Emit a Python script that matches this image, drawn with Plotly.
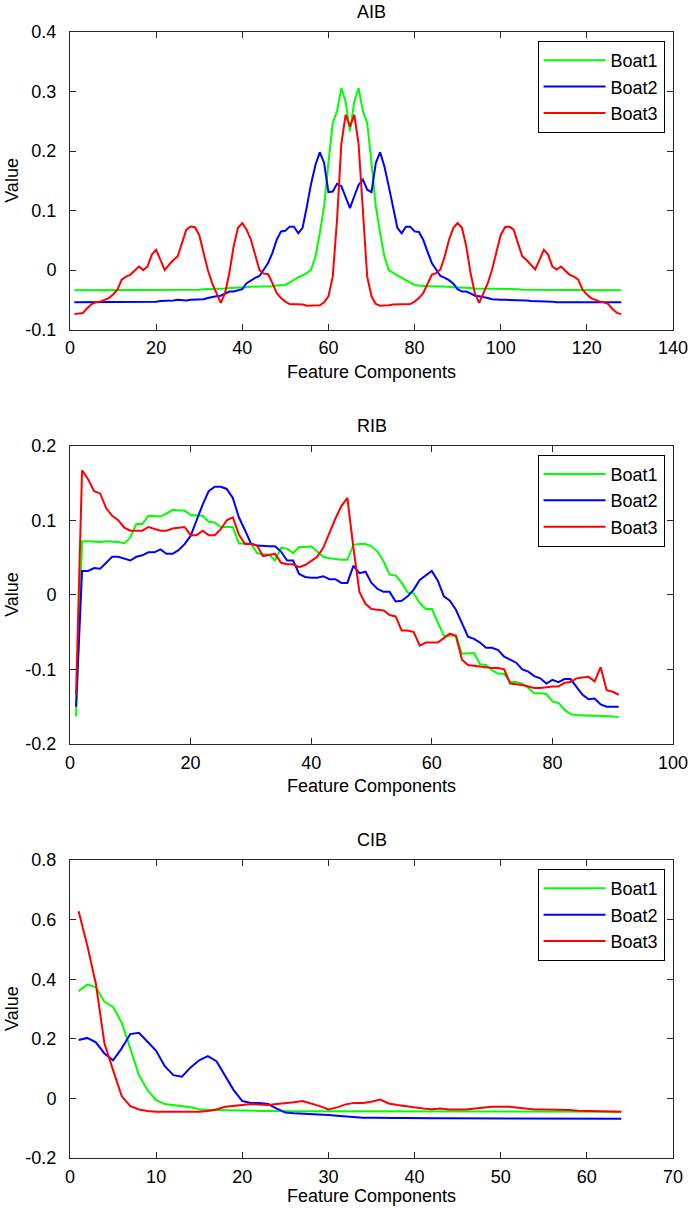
import plotly.graph_objects as go

# ---------------- DATA ----------------
series_names = ["Boat1", "Boat2", "Boat3"]
series_colors = ["#00FF00", "#0000FF", "#FF0000"]

# AIB (128 components)
aib_x = list(range(1, 129))
aib_boat1 = [
    -0.034, -0.034, -0.034, -0.034, -0.034, -0.034, -0.034, -0.034, -0.034, -0.034,
    -0.034, -0.034, -0.034, -0.034, -0.034, -0.034, -0.034, -0.034, -0.034, -0.034,
    -0.033, -0.033, -0.033, -0.033, -0.033, -0.033, -0.033, -0.033, -0.033, -0.033,
    -0.032, -0.032, -0.032, -0.031, -0.031, -0.031, -0.030, -0.030, -0.030, -0.029,
    -0.029, -0.028, -0.028, -0.027, -0.027, -0.027, -0.027, -0.026,
    -0.026, -0.025, -0.021, -0.016, -0.012, -0.009, -0.005, 0.001,
    0.023, 0.062, 0.107, 0.180, 0.247, 0.267, 0.306, 0.283,
    0.233, 0.283, 0.306, 0.267, 0.247, 0.180, 0.107, 0.062,
    0.023, 0.000, -0.005, -0.009, -0.013, -0.017, -0.022, -0.025,
    -0.026, -0.027, -0.027, -0.027, -0.027, -0.027, -0.028, -0.028,
    -0.029, -0.029, -0.030, -0.030, -0.030, -0.031, -0.031, -0.031,
    -0.032, -0.032, -0.032, -0.032, -0.032, -0.032, -0.032, -0.032,
    -0.033, -0.033, -0.033, -0.033, -0.033, -0.033, -0.033, -0.033,
    -0.034, -0.034, -0.034, -0.034, -0.034, -0.034, -0.034, -0.034,
    -0.034, -0.034, -0.034, -0.034, -0.034, -0.034, -0.034, -0.034,
]
aib_boat2 = [
    -0.054, -0.054, -0.054, -0.054, -0.054, -0.054, -0.054, -0.054, -0.054, -0.054,
    -0.054, -0.054, -0.054, -0.054, -0.053, -0.053, -0.053, -0.053, -0.053, -0.053,
    -0.052, -0.052, -0.052, -0.051, -0.050, -0.051, -0.051, -0.050, -0.050, -0.050,
    -0.049, -0.047, -0.045, -0.044, -0.043, -0.039, -0.036, -0.036, -0.034,
    -0.032, -0.022, -0.017, -0.013, -0.010, 0.000, 0.012, 0.029, 0.051, 0.065,
    0.066, 0.073, 0.073, 0.062, 0.071, 0.107, 0.146, 0.177, 0.198, 0.180,
    0.131, 0.132, 0.145, 0.141, 0.124, 0.104, 0.124, 0.143, 0.152, 0.135,
    0.131, 0.180, 0.198,
    0.174, 0.141, 0.107, 0.071, 0.062, 0.073, 0.073, 0.065, 0.064, 0.051,
    0.031, 0.012, 0.001, -0.010, -0.013, -0.017, -0.023, -0.032, -0.036, -0.036,
    -0.039, -0.043, -0.044, -0.045, -0.047, -0.049, -0.050, -0.050,
    -0.050, -0.050, -0.051, -0.051, -0.050,
    -0.051, -0.052, -0.052, -0.053, -0.053, -0.053, -0.053, -0.054, -0.054, -0.054,
    -0.054, -0.054, -0.054, -0.054, -0.054, -0.054, -0.054, -0.054, -0.054, -0.054,
    -0.054, -0.054, -0.054,
]
aib_boat3 = [
    -0.074, -0.073, -0.072, -0.064, -0.057, -0.054, -0.053, -0.050, -0.047, -0.041,
    -0.033, -0.016, -0.011, -0.008, -0.001, 0.006, 0.000, 0.006, 0.026, 0.034,
    0.017, 0.000, 0.009, 0.017, 0.023, 0.045, 0.068, 0.073, 0.072, 0.059,
    0.029, 0.000, -0.022, -0.039, -0.055, -0.039, -0.005, 0.040, 0.071, 0.079,
    0.068, 0.051, 0.026, 0.000, -0.006, -0.007, -0.022, -0.039, -0.047, -0.053,
    -0.057, -0.057, -0.057, -0.058, -0.060, -0.060, -0.060, -0.059, -0.054, -0.044,
    -0.011, 0.085, 0.212, 0.261, 0.241, 0.261, 0.212, 0.090, -0.011, -0.044,
    -0.057, -0.060, -0.060, -0.059, -0.058, -0.058, -0.057, -0.057, -0.057, -0.053,
    -0.047, -0.039, -0.022, -0.008, -0.005, 0.001, 0.023, 0.051, 0.071, 0.079,
    0.071, 0.040, -0.005, -0.039, -0.055, -0.039, -0.022, 0.001, 0.029, 0.059,
    0.072, 0.073, 0.068, 0.045, 0.023, 0.017, 0.009, 0.001, 0.017, 0.034,
    0.026, 0.006, 0.001, 0.006, -0.001, -0.008, -0.011, -0.016, -0.033, -0.041,
    -0.047, -0.050, -0.053, -0.054, -0.057, -0.066, -0.072, -0.074,
]

# RIB (91 components)
rib_x = list(range(1, 92))
rib_boat1 = [
    -0.163, 0.072, 0.072, 0.071, 0.071, 0.072, 0.072, 0.071, 0.069, 0.077,
    0.095, 0.095, 0.106, 0.105, 0.105, 0.109, 0.114, 0.113, 0.113, 0.107,
    0.106, 0.106, 0.098, 0.097, 0.091, 0.091, 0.091, 0.069, 0.069, 0.069,
    0.056, 0.054, 0.054, 0.046, 0.063, 0.062, 0.056, 0.064, 0.064, 0.065,
    0.058, 0.051, 0.049, 0.048, 0.047, 0.047, 0.067, 0.068, 0.068, 0.065,
    0.058, 0.045, 0.027, 0.026, 0.016, 0.003, 0.002, -0.011, -0.019, -0.019,
    -0.036, -0.055, -0.055, -0.055, -0.079, -0.079, -0.078, -0.093, -0.094, -0.101,
    -0.106, -0.106, -0.117, -0.117, -0.119, -0.125, -0.132, -0.132, -0.133, -0.143,
    -0.145, -0.154, -0.160, -0.161, -0.162, -0.162, -0.162, -0.162, -0.163, -0.163,
    -0.164,
]
rib_boat2 = [
    -0.150, 0.032, 0.032, 0.036, 0.035, 0.043, 0.051, 0.051, 0.048, 0.046,
    0.051, 0.053, 0.057, 0.057, 0.061, 0.055, 0.055, 0.060, 0.068, 0.079,
    0.100, 0.121, 0.139, 0.145, 0.145, 0.142, 0.130, 0.104, 0.087, 0.069,
    0.066, 0.065, 0.065, 0.065, 0.058, 0.046, 0.046, 0.028, 0.024, 0.023,
    0.023, 0.025, 0.021, 0.021, 0.016, 0.016, 0.039, 0.029, 0.031, 0.016,
    0.008, 0.004, 0.004, -0.009, -0.008, -0.002, 0.007, 0.020, 0.026, 0.032,
    0.019, -0.002, -0.008, -0.020, -0.038, -0.056, -0.059, -0.064, -0.071, -0.071,
    -0.074, -0.083, -0.087, -0.091, -0.100, -0.103, -0.109, -0.112, -0.119, -0.114,
    -0.117, -0.113, -0.113, -0.123, -0.134, -0.140, -0.139, -0.147, -0.150, -0.150,
    -0.150,
]
rib_boat3 = [
    -0.134, 0.167, 0.155, 0.139, 0.136, 0.116, 0.106, 0.100, 0.090, 0.086,
    0.086, 0.086, 0.091, 0.088, 0.086, 0.086, 0.089, 0.090, 0.091, 0.080,
    0.080, 0.086, 0.080, 0.080, 0.088, 0.100, 0.104, 0.081, 0.068, 0.068,
    0.066, 0.052, 0.054, 0.055, 0.043, 0.041, 0.041, 0.037, 0.040, 0.046,
    0.051, 0.063, 0.083, 0.102, 0.119, 0.130, 0.063, 0.004, -0.012, -0.019,
    -0.020, -0.021, -0.027, -0.029, -0.048, -0.048, -0.050, -0.068, -0.064, -0.064,
    -0.064, -0.058, -0.052, -0.055, -0.087, -0.094, -0.095, -0.096, -0.096, -0.098,
    -0.098, -0.100, -0.119, -0.120, -0.121, -0.123, -0.125, -0.125, -0.124, -0.123,
    -0.123, -0.118, -0.117, -0.112, -0.111, -0.110, -0.116, -0.097, -0.128, -0.130,
    -0.134,
]

# CIB (64 components)
cib_x = list(range(1, 65))
cib_boat1 = [
    0.360, 0.382, 0.374, 0.324, 0.307, 0.254, 0.168, 0.078, 0.028, -0.006,
    -0.019, -0.022, -0.026, -0.030, -0.036, -0.039, -0.039, -0.040, -0.041, -0.041,
    -0.042, -0.042, -0.042, -0.043, -0.043, -0.043, -0.043, -0.043, -0.044, -0.044,
    -0.044, -0.044, -0.044, -0.044, -0.044, -0.044, -0.044, -0.044, -0.045, -0.045,
    -0.045, -0.045, -0.045, -0.045, -0.045, -0.045, -0.045, -0.045, -0.045, -0.045,
    -0.045, -0.045, -0.045, -0.045, -0.045, -0.045, -0.045, -0.045, -0.045, -0.045,
    -0.045, -0.045, -0.045, -0.045,
]
cib_boat2 = [
    0.196, 0.203, 0.188, 0.151, 0.128, 0.168, 0.216, 0.220, 0.190, 0.160,
    0.108, 0.078, 0.073, 0.104, 0.128, 0.142, 0.125, 0.078, 0.028, -0.009,
    -0.015, -0.015, -0.019, -0.034, -0.047, -0.050, -0.051, -0.053, -0.054, -0.056,
    -0.058, -0.061, -0.064, -0.065, -0.065, -0.066, -0.066, -0.066, -0.066, -0.067,
    -0.067, -0.067, -0.067, -0.067, -0.067, -0.067, -0.067, -0.067, -0.067, -0.067,
    -0.067, -0.067, -0.067, -0.067, -0.067, -0.067, -0.068, -0.068, -0.068, -0.068,
    -0.068, -0.068, -0.068, -0.068,
]
cib_boat3 = [
    0.628, 0.514, 0.385, 0.184, 0.095, 0.008, -0.026, -0.037, -0.042, -0.045,
    -0.045, -0.045, -0.045, -0.045, -0.045, -0.042, -0.037, -0.028, -0.026, -0.022,
    -0.019, -0.020, -0.022, -0.019, -0.017, -0.013, -0.009, -0.017, -0.026, -0.037,
    -0.030, -0.020, -0.015, -0.015, -0.011, -0.004, -0.017, -0.022, -0.026, -0.031,
    -0.034, -0.036, -0.034, -0.037, -0.037, -0.037, -0.034, -0.031, -0.028, -0.028,
    -0.028, -0.031, -0.034, -0.037, -0.037, -0.037, -0.039, -0.039, -0.041, -0.042,
    -0.042, -0.042, -0.045, -0.045,
]

panel_titles = ["AIB", "RIB", "CIB"]
x_title = "Feature Components"
y_title = "Value"

aib_xticks = [0, 20, 40, 60, 80, 100, 120, 140]
aib_yticks = [-0.1, 0, 0.1, 0.2, 0.3, 0.4]
aib_yticktext = ["-0.1", "0", "0.1", "0.2", "0.3", "0.4"]
rib_xticks = [0, 20, 40, 60, 80, 100]
rib_yticks = [-0.2, -0.1, 0, 0.1, 0.2]
rib_yticktext = ["-0.2", "-0.1", "0", "0.1", "0.2"]
cib_xticks = [0, 10, 20, 30, 40, 50, 60, 70]
cib_yticks = [-0.2, 0, 0.2, 0.4, 0.6, 0.8]
cib_yticktext = ["-0.2", "0", "0.2", "0.4", "0.6", "0.8"]

# ---------------- FIGURE ----------------
FONT = "Liberation Sans, Arial, Helvetica, sans-serif"
AX = "#262626"

panels = [
    dict(x=aib_x, ys=[aib_boat1, aib_boat2, aib_boat3], xr=[0, 140], yr=[-0.1, 0.4],
         xt=aib_xticks, yt=aib_yticks, ytt=aib_yticktext, dom=[0.7357, 1.0], xlab=-42),
    dict(x=rib_x, ys=[rib_boat1, rib_boat2, rib_boat3], xr=[0, 100], yr=[-0.2, 0.2],
         xt=rib_xticks, yt=rib_yticks, ytt=rib_yticktext, dom=[0.3677, 0.6326], xlab=-42),
    dict(x=cib_x, ys=[cib_boat1, cib_boat2, cib_boat3], xr=[0, 70], yr=[-0.2, 0.8],
         xt=cib_xticks, yt=cib_yticks, ytt=cib_yticktext, dom=[0.0, 0.2646], xlab=-38),
]

fig = go.Figure()
layout = dict(
    width=688, height=1208,
    margin=dict(l=70, r=15, t=32, b=50, autoexpand=False),
    paper_bgcolor="white", plot_bgcolor="white",
    font=dict(family=FONT, size=18, color="black"),
    showlegend=True,
    annotations=[],
)

for i, p in enumerate(panels):
    sfx = "" if i == 0 else str(i + 1)
    leg = "legend" + sfx
    for name, color, y in zip(series_names, series_colors, p["ys"]):
        fig.add_trace(go.Scatter(
            x=p["x"], y=y, mode="lines", name=name,
            line=dict(color=color, width=2),
            xaxis="x" + sfx, yaxis="y" + sfx, legend=leg,
        ))
    common = dict(showline=True, mirror="allticks", linecolor=AX, linewidth=1,
                  ticks="inside", ticklen=6, tickcolor=AX, tickwidth=1,
                  showgrid=False, zeroline=False, fixedrange=True,
                  ticklabeloverflow="allow",
                  tickfont=dict(family=FONT, size=18, color="black"))
    layout["xaxis" + sfx] = dict(common, domain=[0, 1], range=p["xr"], tickmode="array",
                                 tickvals=p["xt"], ticktext=[str(v) for v in p["xt"]],
                                 anchor="y" + sfx, ticklabelstandoff=2)
    layout["yaxis" + sfx] = dict(common, domain=p["dom"], range=p["yr"], tickmode="array",
                                 tickvals=p["yt"], ticktext=p["ytt"],
                                 anchor="x" + sfx, ticklabelstandoff=9)
    layout[leg] = dict(x=0.986, xanchor="right", y=p["dom"][1] - 0.0080, yanchor="top",
                       bgcolor="white", bordercolor="black", borderwidth=1,
                       font=dict(family=FONT, size=18, color="black"),
                       itemwidth=62, tracegroupgap=0)
    xr = "x" + sfx + " domain"
    yr = "y" + sfx + " domain"
    layout["annotations"] += [
        dict(text=panel_titles[i], xref=xr, yref=yr, x=0.5, y=1, xanchor="center",
             yanchor="middle", yshift=20, showarrow=False, font=dict(size=18, family=FONT)),
        dict(text=x_title, xref=xr, yref=yr, x=0.5, y=0, xanchor="center",
             yanchor="middle", yshift=p["xlab"], showarrow=False, font=dict(size=18, family=FONT)),
        dict(text=y_title, xref=xr, yref=yr, x=0, y=0.5, xanchor="center",
             yanchor="middle", xshift=-58, textangle=-90, showarrow=False,
             font=dict(size=18, family=FONT)),
    ]

fig.update_layout(**layout)
fig.write_html("out.html")
